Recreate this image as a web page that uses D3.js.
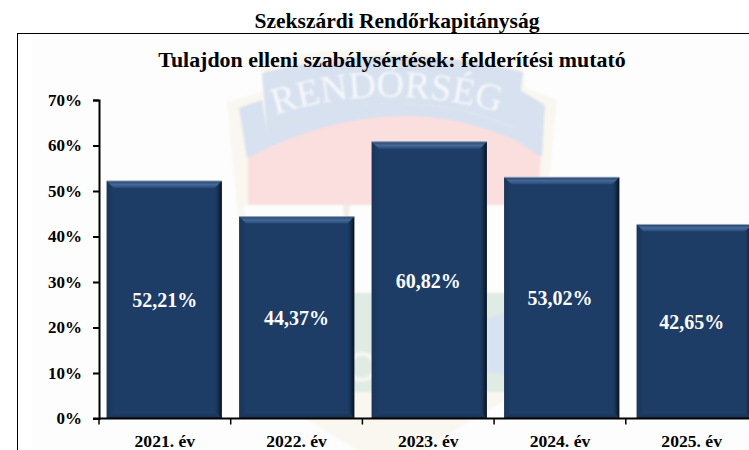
<!DOCTYPE html>
<html><head><meta charset="utf-8">
<script src="https://cdn.jsdelivr.net/npm/d3@7/dist/d3.min.js"></script>
<style>html,body{margin:0;padding:0;background:#fff;overflow:hidden}svg{display:block}text{font-family:"Liberation Serif",serif;font-weight:bold}</style>
</head><body><svg id="c" width="749" height="450"></svg>
<script>
const pageTitle = "Szekszárdi Rendőrkapitányság";
const chartTitle = "Tulajdon elleni szabálysértések: felderítési mutató";
const categories = ["2021. év","2022. év","2023. év","2024. év","2025. év"];
const values = [52.21,44.37,60.82,53.02,42.65];
const valueLabels = ["52,21%","44,37%","60,82%","53,02%","42,65%"];
const yTicks = [0,10,20,30,40,50,60,70];

const svg = d3.select("#c");
const defs = svg.append("defs");
defs.append("filter").attr("id","soft").append("feGaussianBlur").attr("stdDeviation",1);
defs.append("clipPath").attr("id","page").append("rect").attr("width",749).attr("height",450);
const grad = (id,vertical,stops)=>{
  const g = defs.append("linearGradient").attr("id",id);
  if(vertical) g.attr("x2",0).attr("y2",1);
  stops.forEach(s=>g.append("stop").attr("offset",s[0]).attr("stop-color",s[1]));
};
grad("rightEdge",false,[[0,"#1d3c66"],[.35,"#1a3559"],[1,"#07121f"]]);
grad("leftEdge",false,[[0,"#1a3558"],[1,"#1d3c66"]]);
grad("topEdge",true,[[0,"#22436e"],[.5,"#46699a"],[1,"#284a77"]]);
grad("botEdge",true,[[0,"#21406b"],[1,"#163050"]]);

// frame and plate
svg.append("rect").attr("x",17.5).attr("y",33.5).attr("width",760).attr("height",440).attr("fill","#fff").attr("stroke","#000").attr("stroke-width",1);
svg.append("rect").attr("x",32).attr("y",35).attr("width",717).attr("height",415).attr("fill","#fdfdfd");

// faint emblem behind the chart
const wm = svg.append("g").attr("filter","url(#soft)");
const shape = (d,fill)=>wm.append("path").attr("d",d).attr("fill",fill);
shape("M227,102 L262,92 L262,60 Q390,36 523,70 L526,88 L557,100 L548,190 L535,290 L505,400 L390,470 L275,400 L245,290 Z","#f9f7f0");
shape("M248,150 Q390,72 541,150 L538,205 L248,205 Z","#fbdfdf");
shape("M244,205 H538 L528,292 H256 Z","#fdfdfd");
shape("M262,293 H525 L508,392 L340,392 L280,392 Z","#e0ebe3");
shape("M239,108 L262,100 L267,132 Q390,76 515,128 L520,90 L545,105 L542,157 L515,140 Q390,84 247,158 Z","#d7e1ef");
shape("M262,73 Q390,40 523,72 L516,128 Q390,76 267,132 Z","#d7e1ef");
shape("M487,318 L505,312 L512,340 L505,375 L487,372 Z","#d8e3f2");
wm.append("circle").attr("cx",362).attr("cy",367).attr("r",13).attr("fill","none").attr("stroke","#f7f7f2").attr("stroke-width",4);
shape("M343,205 L350,205 L346,250 Z","#f1eee4");
shape("M432,205 L437,205 L450,290 L444,290 Z","#f1eee4");
defs.append("path").attr("id","arc").attr("d","M275,115 Q392,76 530,121");
wm.append("text").attr("font-size",38).attr("fill","#f6f8fb").style("font-weight","normal")
  .append("textPath").attr("href","#arc").text("RENDŐRSÉG");

// titles
svg.append("text").attr("x",397).attr("y",28).attr("text-anchor","middle").attr("font-size",21.5).attr("fill","#000").text(pageTitle);
svg.append("text").attr("x",392).attr("y",66.5).attr("text-anchor","middle").attr("font-size",21.9).attr("fill","#000").text(chartTitle);

// scales: axis and labels share x; the bars sit on a slightly wider step, as in the reference
const y = d3.scaleLinear().domain([0,70]).range([418.5,100]);
const x = d3.scaleBand().domain(categories).range([99,757.5]);
const xBars = d3.scaleBand().domain(categories).range([98,760.5]);
const barW = 115, bev = 7;
const bars = svg.append("g").attr("clip-path","url(#page)");
categories.forEach((c,i)=>{
  const l = xBars(c)+xBars.bandwidth()/2-barW/2, r = l+barW, t = y(values[i]), b = y(0);
  const g = bars.append("g");
  g.append("rect").attr("x",l).attr("y",t).attr("width",barW).attr("height",b-t).attr("fill","#1d3c66");
  const poly = (pts,fill)=>g.append("polygon").attr("points",pts.map(p=>p.join(",")).join(" ")).attr("fill",fill);
  poly([[l,t],[l+bev,t+bev],[l+bev,b-bev],[l,b]],"url(#leftEdge)");
  poly([[r,t],[r-bev,t+bev],[r-bev,b-bev],[r,b]],"url(#rightEdge)");
  poly([[l,b],[l+bev,b-bev],[r-bev,b-bev],[r,b]],"url(#botEdge)");
  poly([[l,t],[r,t],[r-bev,t+bev],[l+bev,t+bev]],"url(#topEdge)");
  g.append("rect").attr("x",l).attr("y",t-.5).attr("width",barW).attr("height",1).attr("fill","#9aa8ba");
  g.append("text").attr("x",x(c)+x.bandwidth()/2).attr("y",(t+b)/2+7.5).attr("text-anchor","middle").attr("font-size",20).attr("fill","#fff").text(valueLabels[i]);
});

// axes
const ya = svg.append("g").attr("transform","translate(99,0)").call(d3.axisLeft(y).tickValues(yTicks).tickFormat(d=>d+"%").tickSize(6).tickPadding(11));
ya.selectAll("text").attr("font-size",17).attr("fill","#000");
ya.selectAll("line").attr("stroke","#000").attr("stroke-width",2);
ya.select(".domain").attr("stroke","#000").attr("stroke-width",2);
svg.append("g").selectAll("line").data(x.domain().concat(["end"])).join("line")
  .attr("x1",(d,i)=>x.range()[0]+i*x.step()).attr("x2",(d,i)=>x.range()[0]+i*x.step())
  .attr("y1",418.5).attr("y2",424.5).attr("stroke","#000").attr("stroke-width",1.5);
svg.append("line").attr("x1",93).attr("x2",749).attr("y1",418.5).attr("y2",418.5).attr("stroke","#000").attr("stroke-width",2);
svg.append("g").selectAll("text").data(categories).join("text")
  .attr("x",d=>x(d)+x.bandwidth()/2).attr("y",447).attr("text-anchor","middle").attr("font-size",17.6).attr("fill","#000").text(d=>d);
</script></body></html>
